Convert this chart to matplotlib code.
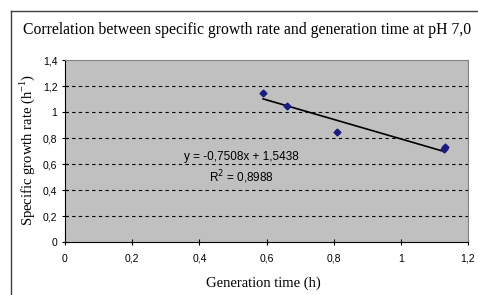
import numpy as np
import matplotlib
matplotlib.use('Agg')
import matplotlib.pyplot as plt
from matplotlib.lines import Line2D

# measured points (generation time h, specific growth rate 1/h)
gen_time = [0.59, 0.662, 0.81, 1.13, 1.132]
growth_rate = [1.148, 1.048, 0.848, 0.718, 0.728]

# trendline as printed on the chart
slope = -0.7508
intercept = 1.5438
r2 = 0.8988

x_ticks = [0, 0.2, 0.4, 0.6, 0.8, 1.0, 1.2]
y_ticks = [0, 0.2, 0.4, 0.6, 0.8, 1.0, 1.2, 1.4]


def comma(v):
    s = f'{v:g}'
    return s.replace('.', ',')


fig = plt.figure(figsize=(4.78, 2.95), dpi=100)

# chart frame: only the left and top edges fall inside the picture
bx = 10.5 / 478
by = 1 - 10.5 / 295
fig.add_artist(Line2D([bx, bx], [0, by], transform=fig.transFigure, color='#404040', linewidth=1.0))
fig.add_artist(Line2D([bx, 1], [by, by], transform=fig.transFigure, color='#404040', linewidth=1.0))

ax = fig.add_axes([65 / 478, 1 - 242 / 295, 403 / 478, 182 / 295])
ax.set_facecolor('#c0c0c0')
ax.set_xlim(0, 1.2)
ax.set_ylim(0, 1.4)

for y in y_ticks[1:-1]:
    ax.axhline(y, color='black', linestyle=(0, (3, 3)), linewidth=0.8, zorder=1)

# trendline over data range
xs = np.array([min(gen_time), max(gen_time)])
ax.plot(xs, slope * xs + intercept, color='black', linewidth=1.2, zorder=2)
ax.plot(gen_time, growth_rate, linestyle='none', marker='D', markersize=3.5,
        color='#1c1c80', zorder=3)

ax.text(0.525, 0.655, f'y = {comma(slope)}x + {comma(intercept)}',
        ha='center', va='center', fontsize=8.5, family='Liberation Sans')
ax.text(0.525, 0.50, f'R$^2$ = {comma(r2)}',
        ha='center', va='center', fontsize=8.5, family='Liberation Sans')

ax.set_xticks(x_ticks)
ax.set_yticks(y_ticks)
ax.set_xticklabels([comma(v) for v in x_ticks], family='Liberation Sans', fontsize=7.5)
ax.set_yticklabels([comma(v) for v in y_ticks], family='Liberation Sans', fontsize=7.5)
ax.tick_params(axis='x', direction='inout', length=5, width=0.8, pad=6)
ax.tick_params(axis='y', direction='inout', length=5, width=0.8, pad=3)

for side in ['top', 'right']:
    ax.spines[side].set_color('#808080')
for side in ['left', 'bottom']:
    ax.spines[side].set_color('black')

fig.text(0.517, 0.898, 'Correlation between specific growth rate and generation time at pH 7,0',
         ha='center', va='center', fontsize=11.3, family='Liberation Serif')
fig.text(263 / 478, 1 - 283 / 295, 'Generation time (h)',
         ha='center', va='center', fontsize=10.5, family='Liberation Serif')
fig.text(27 / 478, 1 - 150 / 295, 'Specific growth rate (h$^{\\mathregular{-1}}$)',
         ha='center', va='center', rotation=90, fontsize=10.5, family='Liberation Serif')

fig.savefig('out.png', dpi=100, facecolor='white')
